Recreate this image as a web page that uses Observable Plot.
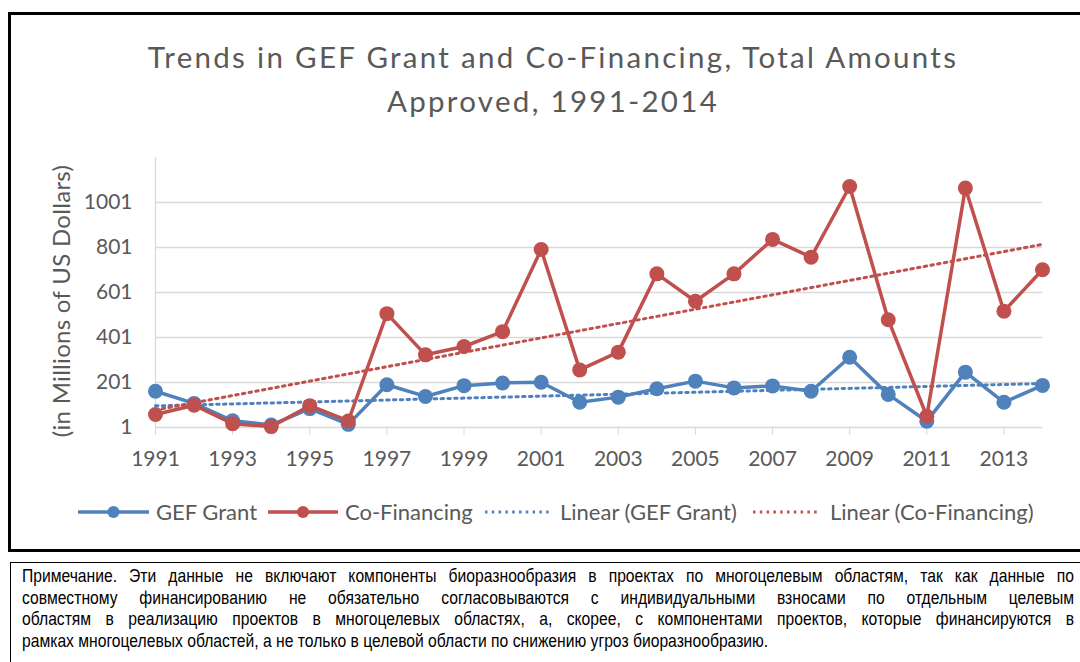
<!DOCTYPE html>
<html><head><meta charset="utf-8">
<script src="https://cdn.jsdelivr.net/npm/d3@7"></script>
<script src="https://cdn.jsdelivr.net/npm/@observablehq/plot@0.6"></script>
<style>
html,body{margin:0;padding:0;background:#fff;width:1080px;height:662px;overflow:hidden;position:relative;font-family:Lato,"Open Sans",sans-serif;}
#frame{position:absolute;left:8px;top:12px;width:1200px;height:540px;border:3px solid #000;box-sizing:border-box;}
#title{position:absolute;left:0;width:1106px;top:35px;text-align:center;font-size:29.5px;letter-spacing:2.3px;line-height:44px;color:#595959;font-weight:400;}
#chart{position:absolute;left:0;top:130px;}
#ylab{position:absolute;left:60px;top:301px;transform:translate(-50%,-50%) rotate(-90deg);white-space:nowrap;font-size:24px;letter-spacing:0.3px;color:#595959;}
.legsw{position:absolute;top:502px;}
.legtx{position:absolute;top:499px;font-size:22px;line-height:26px;color:#595959;white-space:nowrap;}
#note{position:absolute;left:10px;top:562px;width:1200px;height:120px;border:1px solid #000;box-sizing:border-box;}
#notetext{position:absolute;left:22px;top:565px;transform-origin:0 0;font-family:"Liberation Sans",Arial,sans-serif;font-size:18.67px;line-height:21.5px;color:#000;}
#notetext div{text-align:justify;text-align-last:justify;white-space:nowrap;}
#notetext div.last{text-align-last:left;}
#measure{position:absolute;left:0;top:-200px;visibility:hidden;white-space:nowrap;font-family:"Liberation Sans",Arial,sans-serif;font-size:18.67px;}
</style></head>
<body>
<div id="frame"></div>
<div id="title">Trends in GEF Grant and Co-Financing, Total Amounts<br>Approved, 1991-2014</div>
<div id="chart"></div>
<div id="ylab">(in Millions of US Dollars)</div>
<div id="legend"></div>
<div id="note"></div>
<div id="notetext"></div>
<span id="measure"></span>
<script>
const years = [1991,1992,1993,1994,1995,1996,1997,1998,1999,2000,2001,2002,2003,2004,2005,2006,2007,2008,2009,2010,2011,2012,2013,2014];
const gefGrant = [162,108,31,12,85,15,191,139,187,199,202,113,136,173,207,177,186,162,313,148,29,247,113,188];
const coFinancing = [59,100,18,5,98,30,507,324,361,427,792,257,336,684,562,684,837,758,1072,480,51,1065,518,702];
const yTicks = [1,201,401,601,801,1001];
const xTicks = [1991,1993,1995,1997,1999,2001,2003,2005,2007,2009,2011,2013];
const seriesNames = ["GEF Grant","Co-Financing","Linear (GEF Grant)","Linear (Co-Financing)"];
const noteLines = [
 "Примечание. Эти данные не включают компоненты биоразнообразия в проектах по многоцелевым областям, так как данные по",
 "совместному финансированию не обязательно согласовываются с индивидуальными взносами по отдельным целевым",
 "областям в реализацию проектов в многоцелевых областях, а, скорее, с компонентами проектов, которые финансируются в",
 "рамках многоцелевых областей, а не только в целевой области по снижению угроз биоразнообразию."
];

const blue = "#4f81bd", red = "#c0504d";
const grant = years.map((year,i)=>({year, value:gefGrant[i]}));
const cofin = years.map((year,i)=>({year, value:coFinancing[i]}));

const chart = Plot.plot({
  width:1080, height:350,
  marginLeft:155, marginRight:38, marginTop:27, marginBottom:53,
  style:{fontFamily:"Lato, 'Open Sans', sans-serif", fontSize:"21px", color:"#595959", background:"transparent"},
  x:{domain:[1991,2014], label:null},
  y:{domain:[1,1201], label:null},
  marks:[
    Plot.gridY(yTicks,{stroke:"#d9d9d9", strokeOpacity:1, strokeWidth:1.3}),
    Plot.ruleX([1991],{y1:1, y2:1201, stroke:"#d9d9d9", strokeWidth:1.3}),
    Plot.axisY({ticks:yTicks, tickFormat:d=>String(d), tickSize:0, tickPadding:23, fontSize:21, label:null}),
    Plot.axisX({ticks:xTicks, tickFormat:d=>String(d), tickSize:8, tickPadding:16, stroke:"#d9d9d9", fontSize:21, label:null}),
    Plot.linearRegressionY(grant,{x:"year", y:"value", ci:0, stroke:blue, strokeWidth:3, strokeDasharray:"2.5,4.3"}),
    Plot.linearRegressionY(cofin,{x:"year", y:"value", ci:0, stroke:red, strokeWidth:3, strokeDasharray:"2.5,4.3"}),
    Plot.line(grant,{x:"year", y:"value", stroke:blue, strokeWidth:3.5}),
    Plot.dot(grant,{x:"year", y:"value", r:7.5, fill:blue}),
    Plot.line(cofin,{x:"year", y:"value", stroke:red, strokeWidth:3.5}),
    Plot.dot(cofin,{x:"year", y:"value", r:7.5, fill:red})
  ]
});
document.getElementById("chart").appendChild(chart);

// legend
const legendItems = [
  {name:seriesNames[0], color:blue, kind:"line", sw:78, swEnd:149, tx:156},
  {name:seriesNames[1], color:red, kind:"line", sw:268, swEnd:338, tx:345},
  {name:seriesNames[2], color:blue, kind:"dot", sw:485, swEnd:551, tx:560},
  {name:seriesNames[3], color:red, kind:"dot", sw:753, swEnd:820, tx:830}
];
const legend = document.getElementById("legend");
for (const it of legendItems) {
  const w = it.swEnd - it.sw;
  const s = document.createElement("div");
  s.className = "legsw";
  s.style.left = it.sw + "px";
  s.innerHTML = it.kind === "line"
    ? `<svg width="${w}" height="20" style="display:block"><line x1="0" y1="10" x2="${w}" y2="10" stroke="${it.color}" stroke-width="3.5"/><circle cx="${w/2}" cy="10" r="6" fill="${it.color}"/></svg>`
    : `<svg width="${w}" height="20" style="display:block"><line x1="0" y1="10" x2="${w}" y2="10" stroke="${it.color}" stroke-width="3" stroke-dasharray="2.5,4.3"/></svg>`;
  legend.appendChild(s);
  const t = document.createElement("div");
  t.className = "legtx";
  t.style.left = it.tx + "px";
  t.textContent = it.name;
  legend.appendChild(t);
}

// note text: narrow, justified
const nt = document.getElementById("notetext");
const meas = document.getElementById("measure");
let maxW = 0;
noteLines.slice(0,3).forEach(t=>{ meas.textContent = t; maxW = Math.max(maxW, meas.getBoundingClientRect().width); });
const target = 1052;
const scale = Math.min(0.84, target / maxW);
nt.style.width = (target / scale) + "px";
nt.style.transform = `scaleX(${scale})`;
noteLines.forEach((t,i)=>{
  const d = document.createElement("div");
  d.textContent = t;
  if (i === noteLines.length-1) d.className = "last";
  nt.appendChild(d);
});
</script>
</body></html>
